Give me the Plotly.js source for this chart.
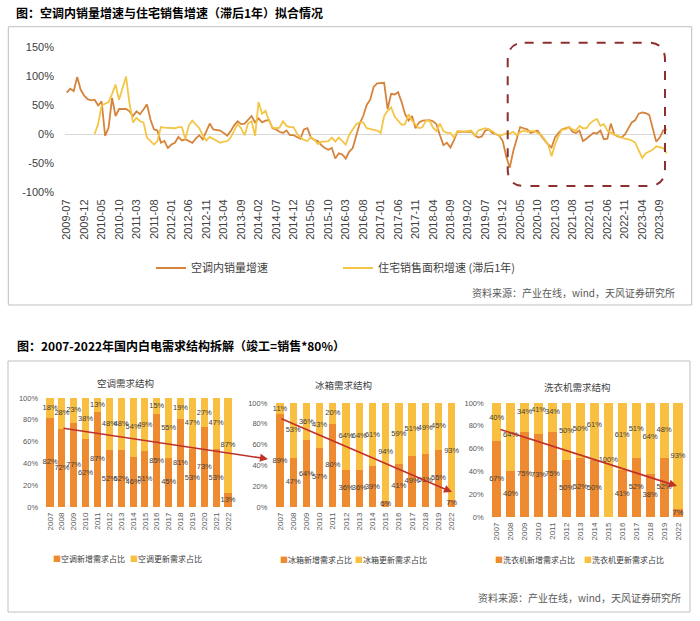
<!DOCTYPE html>
<html><head><meta charset="utf-8">
<script src="https://cdn.plot.ly/plotly-3.0.1.min.js"></script>
<style>html,body{margin:0;padding:0;background:#fff}#chart{width:700px;height:621px}</style>
</head><body><div id="chart"></div>
<script>
// ---------- Top chart data (monthly, from 2009-07) ----------
const startYear = 2009, startMonth = 7;
const acSalesGrowth = [
 71, 78, 74, 98, 76, 66, 60, 58, 59, 49,
 56, -3, 11, 62, 31, 43, 43, 43, 39, 31,
 39, 34, 42, 51, 25, 8, 6, -15, -12, -24,
 -18, -15, -5, -11, -9, -12, -15, -8, -2, -9,
 5, 18, 8, 7, 6, 2, -3, 5, 15, 22,
 17, 18, 25, 31, 20, 27, 20, 23, 24, 10,
 8, 4, 2, 6, -2, -2, -5, -8, 8, 10,
 -6, -10, -12, -19, -24, -27, -24, -42, -33, -35,
 -42, -30, -24, -2, 18, 31, 50, 59, 81, 87,
 87, 88, 43, 69, 68, 72, 55, 34, 23, 31,
 10, 20, 23, 23, 24, 22, 17, -2, -19, -15,
 -23, -11, 4, 4, 4, 4, 4, -2, -6, -4,
 6, 8, 2, 0, -3, -12, -38, -58, -30, -9,
 12, 10, 8, 2, 4, 6, -3, -11, -18, -23,
 -6, 2, 8, 10, 12, 4, 2, 6, -12, -8,
 -3, 2, 1, 6, -9, -8, 18, -1, -4, -6,
 -1, 10, 20, 24, 35, 37, 36, 33, 8, -13,
 -6, 6, 8
];
const housingSalesGrowthLag = [
 null, null, null, null, null, null, null, null, 0, 17,
 49, 52, 55, 69, 85, 59, 80, 99, 52, 20,
 28, 22, 20, -6, -12, -18, -12, 12, 11, 11,
 10, 10, 12, 12, -9, 15, 23, 17, 10, -2,
 -11, -5, -8, -12, -15, -13, -12, -6, 5, 17,
 10, -2, 18, 22, -3, 55, 35, 40, 23, 11,
 10, 11, 22, 14, 12, 12, 1, -6, -10, -12,
 -5, -10, -17, -13, -13, -12, -6, -13, -6, -12,
 -18, -1, 8, 17, 20, 20, 10, 8, 7, 6,
 2, 31, 40, 46, 30, 23, 16, 17, 34, 23,
 16, 10, 12, 23, 23, 11, 5, 18, 5, 2,
 2, -6, 5, 4, 4, 5, 6, -3, 6, 8,
 10, 8, 5, 0, -3, -1, 1, 1, 4, -2,
 3, 6, 4, 5, 5, 2, -1, -9, -18, -38,
 -18, -3, 8, 8, 12, 8, 6, 14, 10, 10,
 18, 23, 26, 14, 17, 6, 2, -1, -3, -6,
 -8, -9, -11, -15, -27, -41, -33, -30, -27, -21,
 -22, -24, -33
];
const topTickLabels = ['2009-07','2009-12','2010-05','2010-10','2011-03','2011-08','2012-01','2012-06','2012-11',
 '2013-04','2013-09','2014-02','2014-07','2014-12','2015-05','2015-10','2016-03','2016-08','2017-01','2017-06',
 '2017-11','2018-04','2018-09','2019-02','2019-07','2019-12','2020-05','2020-10','2021-03','2021-08','2022-01',
 '2022-06','2022-11','2023-04','2023-09'];
const topYTicks = [-100, -50, 0, 50, 100, 150];
const topYTickText = ['-100%', '-50%', '0%', '50%', '100%', '150%'];

// ---------- Bottom charts data ----------
const yearsAC = ['2007','2008','2009','2010','2011','2012','2013','2014','2015','2016','2017','2018','2019','2020','2021','2022'];
const acNew   = [82,72,77,62,87,52,52,46,51,85,45,81,53,73,53,13];
const acRenew = [18,28,23,38,13,48,48,54,49,15,55,19,47,27,47,87];
const yearsFR = ['2007','2008','2009','2010','2011','2012','2013','2014','2015','2016','2017','2018','2019','2022'];
const frNew   = [89,47,64,57,80,36,36,39,6,41,49,51,55,7];
const frRenew = [11,53,36,43,20,64,64,61,94,59,51,49,45,93];
const yearsWM = ['2007','2008','2009','2010','2011','2012','2013','2014','2015','2016','2017','2018','2019','2022'];
const wmNew   = [67,40,75,73,75,50,52,50,null,41,52,38,52,7];
const wmRenew = [40,64,34,41,34,50,50,61,100,61,51,64,48,93];
const pctTicks = [0,20,40,60,80,100];
const pctTickText = ['0%','20%','40%','60%','80%','100%'];

// ---------- styling ----------
const W = 700, H = 621;
const FONT = 'Liberation Sans, Arial, Noto Sans CJK SC, sans-serif';
const CJK = 'Noto Sans CJK SC, Liberation Sans, sans-serif';
const cOrangeLine = '#D6843B', cYellowLine = '#F3C646';
const cNew = '#EE8A2F', cRenew = '#F9BF41';
const px = x => x / W, py = y => 1 - y / H;

const months = [];
for (let i = 0; i < acSalesGrowth.length; i++) {
  const t = startMonth - 1 + i;
  months.push((startYear + Math.floor(t / 12)) + '-' + String(t % 12 + 1).padStart(2, '0'));
}

const traces = [];
traces.push({type:'scatter', mode:'lines', x: months, y: acSalesGrowth, name:'空调内销量增速',
  line:{color:cOrangeLine, width:1.8}, xaxis:'x', yaxis:'y', legend:'legend', hoverinfo:'skip'});
traces.push({type:'scatter', mode:'lines', x: months, y: housingSalesGrowthLag, name:'住宅销售面积增速 (滞后1年)',
  line:{color:cYellowLine, width:1.8}, xaxis:'x', yaxis:'y', legend:'legend2', connectgaps:false, hoverinfo:'skip'});

const keyName = (color, label) => '<span style="color:' + color + '">■</span>' + label;

function stacked(years, nw, rn, nameNew, nameRenew, ax, barW, legA, legB) {
  traces.push({type:'bar', x: years, y: nw, name: nameNew, marker:{color:cNew}, width: barW,
    xaxis:'x'+ax, yaxis:'y'+ax, showlegend:false, hoverinfo:'skip'});
  traces.push({type:'bar', x: years, y: rn, name: nameRenew, marker:{color:cRenew}, width: barW,
    xaxis:'x'+ax, yaxis:'y'+ax, showlegend:false, hoverinfo:'skip'});
  // legend entries: small square key drawn as part of the entry text
  traces.push({type:'scatter', mode:'markers', x:[null], y:[null], name: keyName(cNew, nameNew), legend: legA,
    marker:{symbol:'square', size:1, color:'rgba(0,0,0,0)'}, xaxis:'x'+ax, yaxis:'y'+ax, hoverinfo:'skip'});
  traces.push({type:'scatter', mode:'markers', x:[null], y:[null], name: keyName(cRenew, nameRenew), legend: legB,
    marker:{symbol:'square', size:1, color:'rgba(0,0,0,0)'}, xaxis:'x'+ax, yaxis:'y'+ax, hoverinfo:'skip'});
  const xs = [], ys = [], ts = [];
  years.forEach((yr, i) => {
    const n = nw[i] || 0;
    if (nw[i] != null) { xs.push(yr); ys.push(n / 2); ts.push(nw[i] + '%'); }
    xs.push(yr); ys.push(n + rn[i] / 2); ts.push(rn[i] + '%');
  });
  traces.push({type:'scatter', mode:'text', x: xs, y: ys, text: ts, showlegend:false, cliponaxis:false,
    textfont:{family:FONT, size:7.5, color:'#404040'}, xaxis:'x'+ax, yaxis:'y'+ax, hoverinfo:'skip'});
}
stacked(yearsAC, acNew, acRenew, '空调新增需求占比', '空调更新需求占比', 2, 0.6, 'legend3', 'legend4');
stacked(yearsFR, frNew, frRenew, '冰箱新增需求占比', '冰箱更新需求占比', 3, 0.55, 'legend5', 'legend6');
stacked(yearsWM, wmNew, wmRenew, '洗衣机新增需求占比', '洗衣机更新需求占比', 4, 0.65, 'legend7', 'legend8');

const smallX = (dom, n) => ({domain: dom, type:'category', range:[-0.5, n - 0.5], tickangle:-90,
  tickfont:{family:FONT, size:8, color:'#595959'}, showgrid:false, showline:false, zeroline:false,
  ticks:'', ticklabelstandoff:3, fixedrange:true});
const smallY = (dom) => ({domain: dom, range:[0,100], tickvals: pctTicks, ticktext: pctTickText,
  tickfont:{family:FONT, size:7.5, color:'#595959'}, showgrid:false, showline:false, zeroline:false,
  ticks:'', ticklabelstandoff:5, fixedrange:true});

function leg(xText, yc, size) {
  return {x: px(xText - 42), y: py(yc), xanchor:'left', yanchor:'middle', orientation:'h',
    bgcolor:'rgba(0,0,0,0)', font:{family:CJK, size:size, color:'#404040'}, itemclick:false, itemdoubleclick:false};
}

function roundRect(L, T, R, B, r) {
  const P = (x, y) => px(x) + ',' + py(y);
  return 'M' + P(L + r, T) + ' L' + P(R - r, T) + ' Q' + P(R, T) + ' ' + P(R, T + r) +
    ' L' + P(R, B - r) + ' Q' + P(R, B) + ' ' + P(R - r, B) +
    ' L' + P(L + r, B) + ' Q' + P(L, B) + ' ' + P(L, B - r) +
    ' L' + P(L, T + r) + ' Q' + P(L, T) + ' ' + P(L + r, T) + ' Z';
}

function arrow(x0, y0, x1, y1) {
  return {x: px(x1), y: py(y1), xref:'paper', yref:'paper', ax: x0 - x1, ay: y0 - y1, text:'',
    showarrow:true, arrowhead:2, arrowsize:1, arrowwidth:1.6, arrowcolor:'#C0312B', standoff:0};
}

const layout = {
  width: W, height: H, margin:{l:0, r:0, t:0, b:0, pad:0},
  paper_bgcolor:'#ffffff', plot_bgcolor:'rgba(0,0,0,0)',
  font:{family:FONT, color:'#404040'},
  barmode:'stack',
  title:{text:'图：空调内销量增速与住宅销售增速（滞后1年）拟合情况', x: px(16), xanchor:'left', xref:'paper',
    y: py(14), yanchor:'middle', yref:'container', font:{family:CJK, size:12, color:'#000', weight:'bold'}},
  xaxis:{domain:[px(65), px(668.4)], type:'category', range:[-0.5, acSalesGrowth.length - 0.5],
    tickvals: topTickLabels, ticktext: topTickLabels, tickangle:-90,
    tickfont:{family:FONT, size:11, color:'#404040'}, showgrid:false, showline:false, zeroline:false,
    ticks:'', ticklabelstandoff:4, fixedrange:true, anchor:'y'},
  yaxis:{domain:[py(192.3), py(46.7)], range:[-100, 150], tickvals: topYTicks, ticktext: topYTickText,
    tickfont:{family:FONT, size:11, color:'#404040'}, showgrid:false, showline:false,
    zeroline:true, zerolinecolor:'#D9D9D9', zerolinewidth:1, ticks:'', ticklabelstandoff:10, fixedrange:true, anchor:'x'},
  xaxis2: Object.assign(smallX([px(44.1), px(233.9)], yearsAC.length), {anchor:'y2'}),
  yaxis2: Object.assign(smallY([py(507), py(398)]), {anchor:'x2'}),
  xaxis3: Object.assign(smallX([px(273.4), px(458.3)], yearsFR.length), {anchor:'y3'}),
  yaxis3: Object.assign(smallY([py(507), py(403)]), {anchor:'x3'}),
  xaxis4: Object.assign(smallX([px(489.7), px(685)], yearsWM.length), {anchor:'y4'}),
  yaxis4: Object.assign(smallY([py(517), py(403)]), {anchor:'x4'}),
  legend: leg(193, 268, 11),
  legend2: leg(380, 268, 11),
  legend3: leg(55, 559, 8),
  legend4: leg(132, 559, 8),
  legend5: leg(282, 560, 8),
  legend6: leg(357, 560, 8),
  legend7: leg(497, 560, 8),
  legend8: leg(586, 560, 8),
  shapes: [
    {type:'rect', xref:'paper', yref:'paper', x0:px(8.3), x1:px(691.7), y0:py(305), y1:py(26.7),
      line:{color:'#BFBFBF', width:1}, fillcolor:'rgba(0,0,0,0)', layer:'below'},
    {type:'rect', xref:'paper', yref:'paper', x0:px(8), x1:px(690), y0:py(612), y1:py(361),
      line:{color:'#BFBFBF', width:1}, fillcolor:'rgba(0,0,0,0)', layer:'below'},
    {type:'path', xref:'paper', yref:'paper', path: roundRect(507.7, 42.7, 665, 186, 17),
      line:{color:'#8E2F2F', width:2, dash:'dash'}, fillcolor:'rgba(0,0,0,0)'}
  ],
  annotations: [
    {text:'<b>图：2007-2022年国内白电需求结构拆解（竣工=销售*80%）</b>', x:px(15), y:py(345), xref:'paper', yref:'paper',
      xanchor:'left', yanchor:'middle', showarrow:false, font:{family:CJK, size:12, color:'#000'}},
    {text:'资料来源：产业在线，wind，天风证券研究所', x:px(677), y:py(292), xref:'paper', yref:'paper',
      xanchor:'right', yanchor:'middle', showarrow:false, font:{family:CJK, size:10, color:'#595959'}},
    {text:'资料来源：产业在线，wind，天风证券研究所', x:px(683), y:py(597), xref:'paper', yref:'paper',
      xanchor:'right', yanchor:'middle', showarrow:false, font:{family:CJK, size:10, color:'#595959'}},
    {text:'空调需求结构', x:px(125), y:py(383), xref:'paper', yref:'paper', xanchor:'center', yanchor:'middle',
      showarrow:false, font:{family:CJK, size:9.5, color:'#404040'}},
    {text:'冰箱需求结构', x:px(343), y:py(385), xref:'paper', yref:'paper', xanchor:'center', yanchor:'middle',
      showarrow:false, font:{family:CJK, size:9.5, color:'#404040'}},
    {text:'洗衣机需求结构', x:px(577), y:py(387), xref:'paper', yref:'paper', xanchor:'center', yanchor:'middle',
      showarrow:false, font:{family:CJK, size:9.5, color:'#404040'}},
    arrow(62, 428, 268, 459),
    arrow(280, 418, 452, 492),
    arrow(499, 429, 677, 486)
  ]
};

Plotly.newPlot('chart', traces, layout, {displayModeBar:false, staticPlot:true});
</script></body></html>
